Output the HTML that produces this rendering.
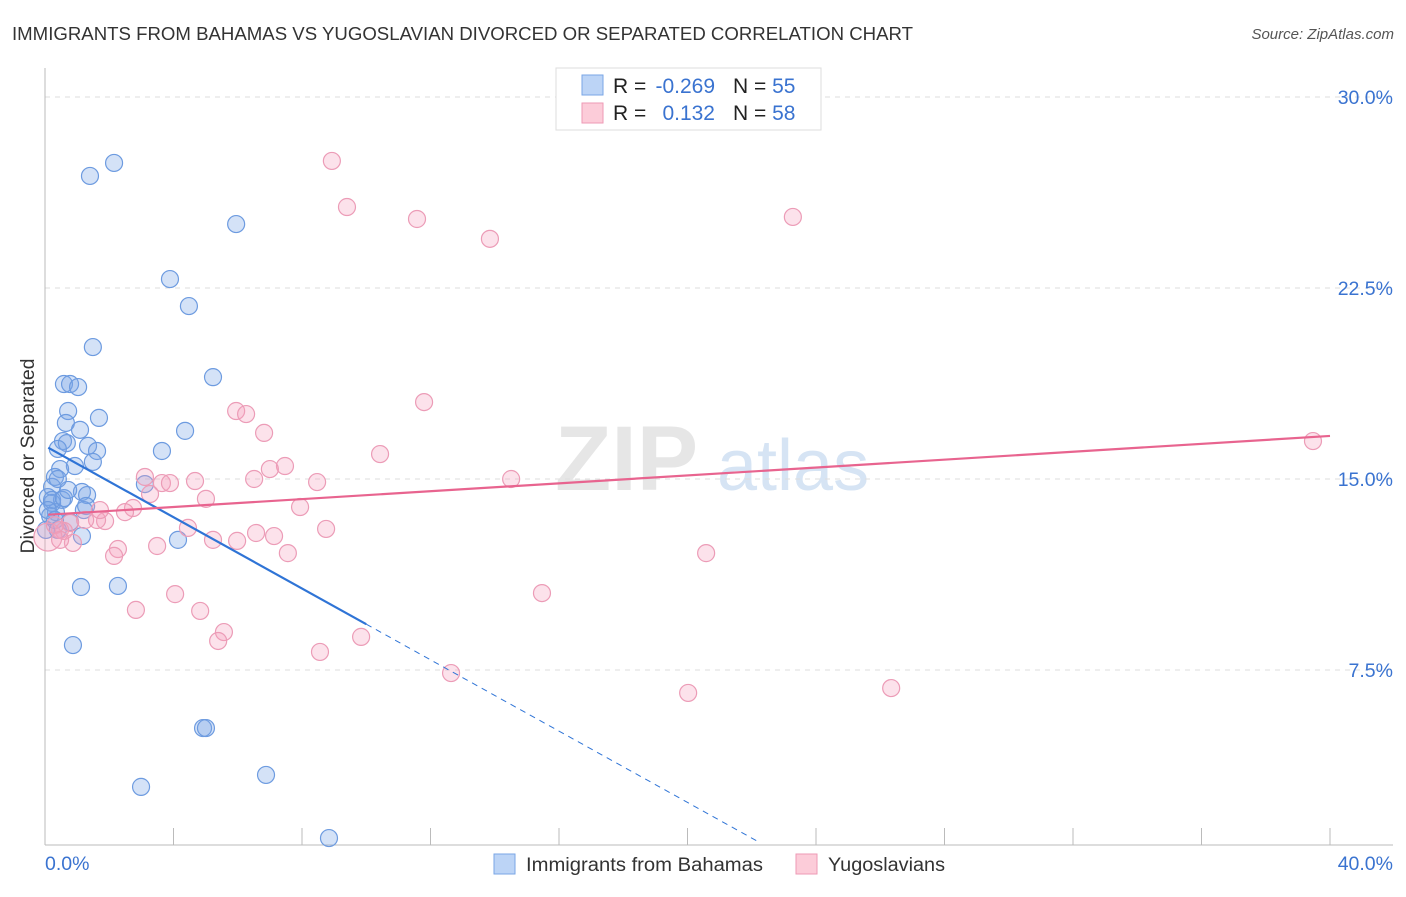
<!DOCTYPE html>
<html><head><meta charset="utf-8">
<style>
body{margin:0;background:#fff;font-family:"Liberation Sans",sans-serif;}
svg text{font-family:"Liberation Sans",sans-serif;}
</style></head>
<body>
<svg id="chart" width="1406" height="892" xmlns="http://www.w3.org/2000/svg">
<text x="12" y="40" font-size="18" fill="#333" textLength="901" lengthAdjust="spacingAndGlyphs">IMMIGRANTS FROM BAHAMAS VS YUGOSLAVIAN DIVORCED OR SEPARATED CORRELATION CHART</text>
<text x="1394" y="39" font-size="15" fill="#555" font-style="italic" text-anchor="end">Source: ZipAtlas.com</text>
<text x="0" y="0" transform="translate(34,456) rotate(-90)" font-size="19" fill="#333" text-anchor="middle" textLength="195" lengthAdjust="spacingAndGlyphs">Divorced or Separated</text>
<g>
<text x="555" y="490" font-size="92" fill="#e6e6e6" font-family="Liberation Serif" font-weight="bold">ZIP</text>
<text x="717" y="490" font-size="72" fill="#d6e4f4">atlas</text>
</g>
<g id="grid"></g>
<g id="axes"></g>
<g id="marks"></g>
<g>
<rect x="556" y="68" width="265" height="62" fill="#fff" stroke="#ddd"/>
<rect x="582" y="75" width="21" height="20" fill="#bcd4f6" stroke="#7aa6e6"/>
<rect x="582" y="103" width="21" height="20" fill="#fcccd9" stroke="#ee9ab5"/>
<text x="613" y="93" font-size="21" fill="#222">R = </text>
<text x="715" y="93" font-size="21" fill="#3a73d0" text-anchor="end">-0.269</text>
<text x="733" y="93" font-size="21" fill="#222">N = <tspan fill="#3a73d0">55</tspan></text>
<text x="613" y="120" font-size="21" fill="#222">R = </text>
<text x="715" y="120" font-size="21" fill="#3a73d0" text-anchor="end">0.132</text>
<text x="733" y="120" font-size="21" fill="#222">N = <tspan fill="#3a73d0">58</tspan></text>
</g>
<g>
<rect x="494" y="854" width="21" height="20" fill="#bcd4f6" stroke="#7aa6e6"/>
<text x="526" y="871" font-size="19" fill="#333" textLength="237" lengthAdjust="spacingAndGlyphs">Immigrants from Bahamas</text>
<rect x="796" y="854" width="21" height="20" fill="#fcccd9" stroke="#ee9ab5"/>
<text x="828" y="871" font-size="19" fill="#333" textLength="117" lengthAdjust="spacingAndGlyphs">Yugoslavians</text>
</g>
</svg>
<script>
const yTicks=[7.5,15,22.5,30];
const yTickLabels=["7.5%","15.0%","22.5%","30.0%"];
const xTicks=[0,4,8,12,16,20,24,28,32,36,40];
const xEndLabels=["0.0%","40.0%"];
const blueX=[2.15,1.40,5.95,3.89,4.48,1.49,5.23,0.59,0.78,1.03,0.72,1.68,0.65,1.09,0.56,0.68,4.36,1.34,0.40,3.64,1.62,1.49,0.93,0.47,0.31,0.22,1.15,1.31,3.11,0.09,0.53,0.22,1.28,1.21,0.34,0.16,0.78,0.03,1.15,4.14,1.12,2.27,0.87,4.92,5.01,6.88,2.99,8.84,0.22,0.59,0.09,0.40,0.72,0.40,0.31];
const blueY=[27.41,26.90,25.01,22.85,21.79,20.18,19.00,18.73,18.73,18.61,17.67,17.40,17.20,16.93,16.49,16.41,16.89,16.30,16.18,16.10,16.10,15.67,15.51,15.39,15.08,14.69,14.49,14.37,14.80,14.29,14.18,14.06,13.94,13.78,13.70,13.55,13.31,13.00,12.76,12.61,10.76,10.80,8.48,5.22,5.22,3.38,2.91,0.90,14.18,14.25,13.78,13.00,14.57,15.00,13.39];
const pinkX=[8.93,9.40,11.58,13.85,23.28,11.80,5.95,6.26,6.82,10.43,7.47,7.00,3.11,4.67,3.64,3.89,6.51,8.47,14.51,39.47,3.27,5.01,7.94,2.74,2.49,1.87,1.62,0.78,0.47,0.59,4.45,8.75,6.57,7.13,5.98,5.23,3.49,2.27,0.87,2.15,7.56,20.58,15.47,4.05,2.83,4.83,5.57,5.39,8.56,9.84,12.64,20.02,26.34,0.09,0.31,1.25,0.47,1.71];
const pinkY=[27.49,25.68,25.21,24.43,25.29,18.02,17.67,17.55,16.81,15.98,15.51,15.39,15.08,14.92,14.84,14.84,15.00,14.88,15.00,16.49,14.41,14.22,13.90,13.86,13.70,13.35,13.39,13.27,13.00,12.96,13.08,13.04,12.88,12.76,12.57,12.61,12.37,12.25,12.49,11.98,12.09,12.09,10.52,10.48,9.86,9.82,8.99,8.64,8.21,8.80,7.38,6.60,6.79,12.72,13.19,13.39,12.61,13.78];
const blueTrend=[16.30,-0.70];
const pinkTrend=[13.59,0.0775];

const NS="http://www.w3.org/2000/svg";
const X0=45,X1=1330,Y0=861,PXY=191/7.5;
function sx(v){return X0+(X1-X0)*v/40;}
function sy(v){return Y0-v*PXY;}
function mk(tag,attrs,parent){const e=document.createElementNS(NS,tag);for(const k in attrs)e.setAttribute(k,attrs[k]);parent.appendChild(e);return e;}
const grid=document.getElementById('grid'),axes=document.getElementById('axes'),marks=document.getElementById('marks');
yTicks.forEach((t,i)=>{
  const l=mk('line',{x1:X0,x2:1393,y1:sy(t),y2:sy(t),stroke:'#ddd','stroke-dasharray':'5,5'},grid);
  
  
  const tx=mk('text',{x:1393,y:sy(t)+7,'font-size':19.5,fill:'#3a73d0','text-anchor':'end'},axes);
  tx.textContent=yTickLabels[i];
  
  
});
const ya=mk('line',{x1:X0,x2:X0,y1:68,y2:845,stroke:'#bbb'},axes);


const xa=mk('line',{x1:X0,x2:1393,y1:845,y2:845,stroke:'#bbb'},axes);


xTicks.forEach(t=>{
  const l=mk('line',{x1:sx(t),x2:sx(t),y1:828,y2:845,stroke:'#bbb'},axes);
  
  
});
const xl0=mk('text',{x:45,y:870,'font-size':19.5,fill:'#3a73d0'},axes);xl0.textContent=xEndLabels[0];


const xl1=mk('text',{x:1393,y:870,'font-size':19.5,fill:'#3a73d0','text-anchor':'end'},axes);xl1.textContent=xEndLabels[1];



blueX.forEach((x,i)=>{
  const c=mk('circle',{cx:sx(x),cy:sy(blueY[i]),r:8.5,fill:'rgba(120,165,230,0.32)',stroke:'#6d9be0','stroke-width':1.2},marks);
  
  
});
pinkX.forEach((x,i)=>{
  const c=mk('circle',{cx:sx(x),cy:sy(pinkY[i]),r:i==53?14:8.5,fill:'rgba(245,160,190,0.3)',stroke:'#ec9cb7','stroke-width':1.2},marks);
  
  
});
const bEndSolid=10,bEndDash=22.2;
const bl=mk('line',{x1:sx(0.1),y1:sy(blueTrend[0]+blueTrend[1]*0.1),x2:sx(bEndSolid),y2:sy(blueTrend[0]+blueTrend[1]*bEndSolid),stroke:'#2f74d6','stroke-width':2.2},marks);


const bd=mk('line',{x1:sx(bEndSolid),y1:sy(blueTrend[0]+blueTrend[1]*bEndSolid),x2:sx(bEndDash),y2:sy(blueTrend[0]+blueTrend[1]*bEndDash),stroke:'#2f74d6','stroke-width':1,'stroke-dasharray':'6,5'},marks);


const pl=mk('line',{x1:sx(0.1),y1:sy(pinkTrend[0]+pinkTrend[1]*0.1),x2:sx(40),y2:sy(pinkTrend[0]+pinkTrend[1]*40),stroke:'#e8648f','stroke-width':2.2},marks);


</script>
</body></html>
